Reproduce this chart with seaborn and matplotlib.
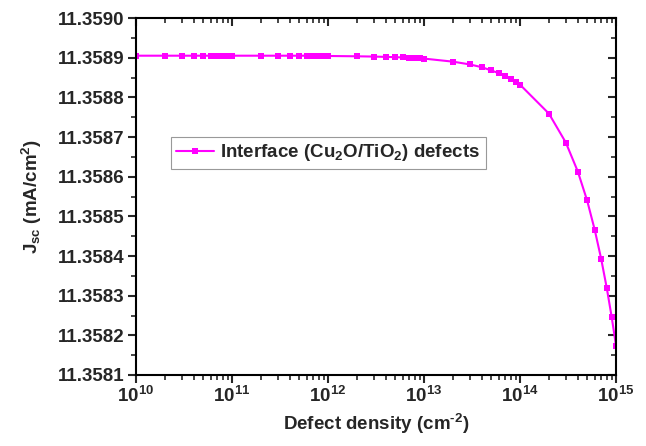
import matplotlib
matplotlib.use("Agg")
import matplotlib.pyplot as plt
import matplotlib.ticker as mticker
import seaborn as sns
import pandas as pd

# Defect density (cm^-2) and short-circuit current density (mA/cm^2)
density = [
    1e10, 2e10, 3e10, 4e10, 5e10, 6e10, 7e10, 8e10, 9e10,
    1e11, 2e11, 3e11, 4e11, 5e11, 6e11, 7e11, 8e11, 9e11,
    1e12, 2e12, 3e12, 4e12, 5e12, 6e12, 7e12, 8e12, 9e12,
    1e13, 2e13, 3e13, 4e13, 5e13, 6e13, 7e13, 8e13, 9e13,
    1e14, 2e14, 3e14, 4e14, 5e14, 6e14, 7e14, 8e14, 9e14,
    1e15,
]
jsc = [
    11.358905, 11.358905, 11.358905, 11.358905, 11.358905, 11.358905, 11.358905, 11.358905, 11.358905,
    11.358905, 11.358905, 11.358905, 11.358905, 11.358905, 11.358905, 11.358905, 11.358905, 11.358905,
    11.3589043, 11.3589035, 11.3589028, 11.358902, 11.3589013, 11.3589006, 11.3588999, 11.3588992, 11.3588984,
    11.3588977, 11.358890, 11.358883, 11.358876, 11.358868, 11.358861, 11.358854, 11.358847, 11.358839,
    11.358832, 11.358759, 11.358686, 11.358613, 11.358540, 11.358466, 11.358393, 11.358320, 11.358247,
    11.358174,
]
series_label = "Interface (Cu$_2$O/TiO$_2$) defects"
y_ticks = [11.3581, 11.3582, 11.3583, 11.3584, 11.3585, 11.3586, 11.3587, 11.3588, 11.3589, 11.3590]

sns.set_style("ticks")
plt.rcParams["font.family"] = ["Liberation Sans", "DejaVu Sans"]
plt.rcParams["font.weight"] = "bold"
plt.rcParams["mathtext.fontset"] = "custom"
plt.rcParams["mathtext.rm"] = "Liberation Sans:bold"
plt.rcParams["mathtext.bf"] = "Liberation Sans:bold"
plt.rcParams["mathtext.default"] = "bf"

df = pd.DataFrame({"density": density, "jsc": jsc, "series": series_label})

fig = plt.figure(figsize=(6.46, 4.46), dpi=100)
ax = fig.add_axes([0.2105, 0.1592, 0.7431, 0.8004])

sns.lineplot(data=df, x="density", y="jsc", hue="series", palette=["#FF00FF"],
             marker="s", markersize=3.8, markeredgewidth=0, linewidth=1.5, ax=ax)

ax.set_xscale("log")
ax.set_xlim(1e10, 1e15)
ax.set_ylim(11.3581, 11.3590)
ax.xaxis.set_major_locator(mticker.LogLocator(base=10, numticks=10))
ax.xaxis.set_minor_locator(mticker.LogLocator(base=10, subs=range(2, 10), numticks=20))
ax.xaxis.set_minor_formatter(mticker.NullFormatter())
ax.xaxis.set_major_formatter(mticker.LogFormatterMathtext())
ax.set_yticks(y_ticks)
ax.yaxis.set_minor_locator(mticker.AutoMinorLocator(2))
ax.yaxis.set_major_formatter(mticker.FormatStrFormatter("%.4f"))

for side in ["left", "right", "top", "bottom"]:
    ax.spines[side].set_visible(True)
    ax.spines[side].set_linewidth(1.5)
    ax.spines[side].set_color("black")

# Ticks on all four sides: inward by default, then bottom/left tick marks flipped outward
MAJ, MINL = 6, 3.5
ax.tick_params(axis="both", which="major", direction="in", length=MAJ, width=1.5,
               labelsize=13.5, pad=2 + MAJ, top=True, right=True)
ax.tick_params(axis="both", which="minor", direction="in", length=MINL, width=1.2,
               top=True, right=True)
for t in ax.xaxis.get_major_ticks() + ax.xaxis.get_minor_ticks():
    t.tick1line.set_marker(3)   # TICKDOWN: outward at the bottom
for t in ax.yaxis.get_major_ticks() + ax.yaxis.get_minor_ticks():
    t.tick1line.set_marker(0)   # TICKLEFT: outward at the left

ax.set_xlabel("Defect density (cm$^{\\text{-}2}$)", fontsize=13.5, fontweight="bold", labelpad=4)
ax.set_ylabel("J$_{\\mathrm{sc}}$ (mA/cm$^2$)", fontsize=13.5, fontweight="bold", labelpad=10)

leg = ax.legend(loc="upper left", bbox_to_anchor=(0.072, 0.668), fontsize=13.5,
                frameon=True, fancybox=False, edgecolor="#999999", framealpha=1,
                handlelength=2.0, borderpad=0.3, handletextpad=0.35, borderaxespad=0)
leg.get_frame().set_linewidth(0.8)

fig.savefig("out.png", dpi=100)
